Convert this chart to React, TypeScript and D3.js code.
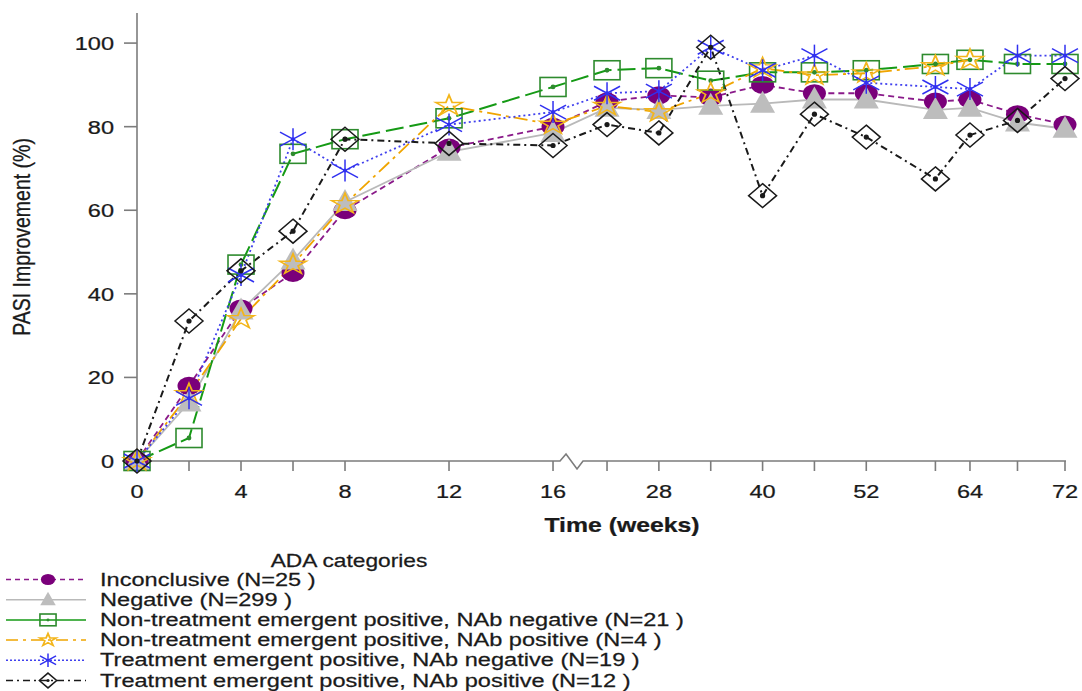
import React from "react";
import * as d3 from "d3";

// Visit weeks and the axis labels shown beneath them
const WEEKS = [0, 2, 4, 6, 8, 12, 16, 22, 28, 34, 40, 46, 52, 60, 64, 68, 72];
const LABELED_WEEKS = [0, 4, 8, 12, 16, 28, 40, 52, 64, 72];
const Y_TICKS = [0, 20, 40, 60, 80, 100];

// Mean PASI improvement (%) per ADA category at each visit
const INCONCLUSIVE = [0, 18, 36.5, 45, 60, 75, 80, 86, 87.5, 87, 90, 88, 88, 86, 86.5, 83, 80.5];
const NEGATIVE = [0, 14, 36, 48, 62, 74, 78.5, 84.5, 84, 85, 85.5, 86.5, 86.5, 84, 84.5, 81, 79.5];
const NTE_NAB_NEG = [0, 5.5, 47, 73.5, 77, 82, 89.5, 93.5, 94, 91, 93, 93, 93.5, 95, 96, 95, 95];
const NTE_NAB_POS = [0, 16, 34, 47, 61.5, 85, 80.5, 85, 83.5, 88, 94, 92.3, 92.8, 94.5, 96];
const TE_NAB_NEG = [0, 15, 44.5, 77, 69.5, 80.5, 83.5, 88, 88.5, 99, 93.5, 97, 90.5, 89.5, 89, 97, 97];
const TE_NAB_POS = [0, 33.5, 45.5, 55, 77, 76, 75.5, 80.5, 78.5, 99, 63.5, 83, 77.5, 67.5, 78, 81.5, 91.5];

const SERIES_LABELS = [
  "Inconclusive (N=25 )",
  "Negative (N=299 )",
  "Non-treatment emergent positive, NAb negative (N=21 )",
  "Non-treatment emergent positive, NAb positive (N=4 )",
  "Treatment emergent positive, NAb negative (N=19 )",
  "Treatment emergent positive, NAb positive (N=12 )",
];
const SERIES_VALUES = [INCONCLUSIVE, NEGATIVE, NTE_NAB_NEG, NTE_NAB_POS, TE_NAB_NEG, TE_NAB_POS];

type MarkerKind = "circle" | "triangle" | "square" | "star" | "asterisk" | "diamond";
interface SeriesStyle {
  color: string;
  markerColor: string;
  dash: string | undefined;
  legendDash: string | undefined;
  width: number;
  marker: MarkerKind;
}

const STYLES: SeriesStyle[] = [
  { color: "#8a1a8a", markerColor: "#7a007a", dash: "6,4", legendDash: "5,4", width: 1.8, marker: "circle" },
  { color: "#b9b9b9", markerColor: "#bdbdbd", dash: undefined, legendDash: undefined, width: 1.8, marker: "triangle" },
  { color: "#159a15", markerColor: "#2e8b2e", dash: "18,6", legendDash: undefined, width: 2, marker: "square" },
  { color: "#f0a500", markerColor: "#f3b51a", dash: "14,5,3,5", legendDash: "12,5,3,5", width: 1.8, marker: "star" },
  { color: "#4040ee", markerColor: "#3030f0", dash: "2,3", legendDash: "2,2", width: 1.8, marker: "asterisk" },
  { color: "#1a1a1a", markerColor: "#1a1a1a", dash: "7,4,2,4", legendDash: "7,4,2,4", width: 2, marker: "diamond" },
];

const FONT = "'Liberation Sans', Arial, Helvetica, sans-serif";
const TEXT_COLOR = "#1a1a1a";
const AXIS_COLOR = "#7c7c7c";
const SX = 1.24; // horizontal text stretch

const W = 1082;
const H = 691;
const LEFT = 137;
const RIGHT = 1065;
const TOP = 13;
const BOTTOM = 461;

const x = d3
  .scaleLinear()
  .domain([0, 16, 22, 64, 72])
  .range([LEFT, LEFT + 0.4483 * (RIGHT - LEFT), LEFT + 0.5065 * (RIGHT - LEFT), LEFT + 0.8976 * (RIGHT - LEFT), RIGHT]);
const y = d3.scaleLinear().domain([0, 107.2]).range([BOTTOM, TOP]);

function SText(props: {
  x: number;
  y: number;
  size: number;
  anchor?: "start" | "middle" | "end";
  weight?: string | number;
  sx?: number;
  rotate?: number;
  children: React.ReactNode;
}) {
  const { sx = SX, rotate = 0 } = props;
  return (
    <text
      transform={`translate(${props.x},${props.y}) scale(${sx},1)${rotate ? ` rotate(${rotate})` : ""}`}
      textAnchor={props.anchor ?? "start"}
      fontFamily={FONT}
      fontSize={props.size}
      fontWeight={props.weight ?? "normal"}
      fill={TEXT_COLOR}
      stroke={TEXT_COLOR}
      strokeWidth={0.25}
    >
      {props.children}
    </text>
  );
}

const starPath = d3.symbol(d3.symbolStar, 130)() as string;

function Marker({ kind, color, k = 1 }: { kind: MarkerKind; color: string; k?: number }) {
  switch (kind) {
    case "circle":
      return <ellipse rx={11.5 * k} ry={9 * k} fill={color} />;
    case "triangle":
      return <path d={`M0,${-13 * k}L${12.5 * k},${9 * k}L${-12.5 * k},${9 * k}Z`} fill={color} />;
    case "square":
      return (
        <g>
          <rect x={-13 * k} y={-9.5 * k} width={26 * k} height={19 * k} fill="none" stroke={color} strokeWidth={1.6} />
          <circle r={2.4 * k} fill={color} />
        </g>
      );
    case "star":
      return (
        <path d={starPath} transform={`scale(${1.3 * k},${1 * k})`} fill="none" stroke={color} strokeWidth={1.4 / k} />
      );
    case "asterisk":
      return (
        <g stroke={color} strokeWidth={1.5}>
          <line x1={0} y1={-11 * k} x2={0} y2={11 * k} />
          <line x1={-13 * k} y1={-7 * k} x2={13 * k} y2={7 * k} />
          <line x1={-13 * k} y1={7 * k} x2={13 * k} y2={-7 * k} />
          <circle r={2 * k} fill={color} stroke="none" />
        </g>
      );
    case "diamond":
      return (
        <g>
          <path
            d={`M0,${-12 * k}L${14 * k},0L0,${12 * k}L${-14 * k},0Z`}
            fill="none"
            stroke={color}
            strokeWidth={1.5}
          />
          <circle r={2.6 * k} fill={color} />
        </g>
      );
  }
}

export default function App() {
  const line = d3
    .line<[number, number]>()
    .x((d) => x(d[0]))
    .y((d) => y(d[1]));

  const series = SERIES_VALUES.map((vals, i) => ({
    label: SERIES_LABELS[i],
    style: STYLES[i],
    points: vals.map((v, j) => [WEEKS[j], v] as [number, number]),
  }));

  const x16 = x(16);
  const axisPath = `M${LEFT - 13},${BOTTOM}H${x16 + 7}L${x16 + 13},${BOTTOM - 7}L${x16 + 24},${BOTTOM + 8}L${x16 + 30},${BOTTOM}H${RIGHT + 1}`;

  const legendBaselines = [585.5, 605.7, 625.9, 646.1, 666.3, 686.5];

  return (
    <svg
      width={W}
      height={H}
      viewBox={`0 0 ${W} ${H}`}
      style={{ position: "absolute", left: 0, top: 0, background: "#fff" }}
    >
      <rect width={W} height={H} fill="#fff" />

      {/* axes */}
      <g stroke={AXIS_COLOR} strokeWidth={1.6} fill="none">
        <line x1={LEFT} y1={TOP} x2={LEFT} y2={BOTTOM} />
        <path d={axisPath} />
        {Y_TICKS.map((t) => (
          <line key={`yt${t}`} x1={LEFT - 13} x2={LEFT} y1={y(t)} y2={y(t)} />
        ))}
        {WEEKS.map((w) => (
          <line key={`xt${w}`} x1={x(w)} x2={x(w)} y1={BOTTOM} y2={BOTTOM + 10} />
        ))}
      </g>

      {Y_TICKS.map((t) => (
        <SText key={`yl${t}`} x={114} y={y(t) + 7} size={19} anchor="end">
          {t}
        </SText>
      ))}
      {LABELED_WEEKS.map((w) => (
        <SText key={`xl${w}`} x={x(w)} y={498} size={19} anchor="middle">
          {w}
        </SText>
      ))}

      <SText x={622} y={532} size={20} anchor="middle" weight="bold">
        Time (weeks)
      </SText>
      <SText x={30} y={237} size={19.5} anchor="middle" rotate={-90} sx={1.2}>
        PASI Improvement (%)
      </SText>

      {/* series lines */}
      {series.map((s, i) => (
        <path
          key={`line${i}`}
          d={line(s.points) as string}
          fill="none"
          stroke={s.style.color}
          strokeWidth={s.style.width}
          strokeDasharray={s.style.dash}
        />
      ))}

      {/* series markers */}
      {series.map((s, i) => (
        <g key={`mk${i}`}>
          {s.points.map((p, j) => (
            <g key={j} transform={`translate(${x(p[0])},${y(p[1])})`}>
              <Marker kind={s.style.marker} color={s.style.markerColor} />
            </g>
          ))}
        </g>
      ))}

      {/* legend */}
      <SText x={349} y={567} size={17.5} anchor="middle" sx={1.3}>
        ADA categories
      </SText>
      {series.map((s, i) => {
        const by = legendBaselines[i];
        const cy = by - 6;
        return (
          <g key={`lg${i}`}>
            <line
              x1={6}
              x2={86}
              y1={cy}
              y2={cy}
              stroke={s.style.color}
              strokeWidth={1.5}
              strokeDasharray={s.style.legendDash}
            />
            <g transform={`translate(48,${cy})`}>
              <Marker kind={s.style.marker} color={s.style.markerColor} k={0.62} />
            </g>
            <SText x={100} y={by} size={18.5} sx={1.275}>
              {s.label}
            </SText>
          </g>
        );
      })}
    </svg>
  );
}
